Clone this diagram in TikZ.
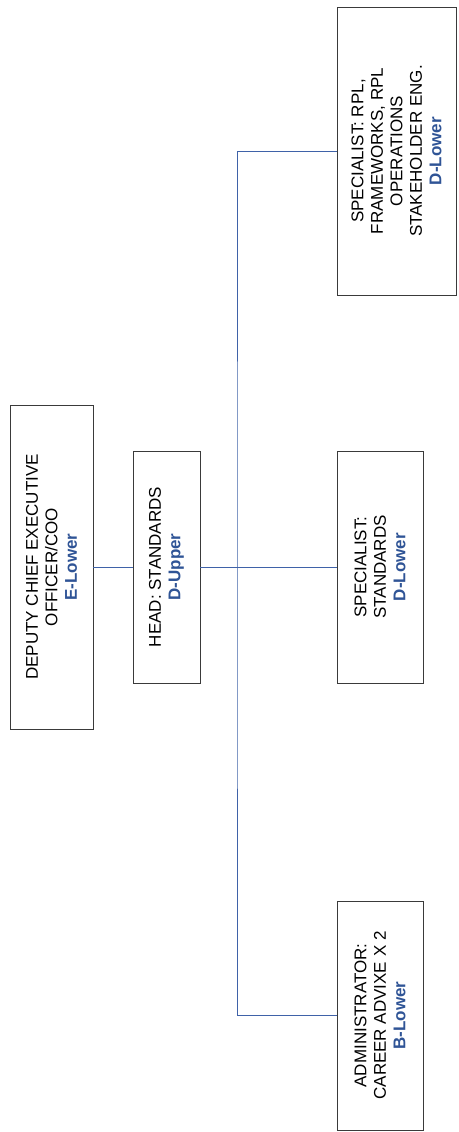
\documentclass[tikz,border=0pt]{standalone}
\usepackage{fontspec}
\setmainfont{Liberation Sans}
\definecolor{gradeblue}{HTML}{2F5496}
\definecolor{linkblue}{HTML}{3F62A8}
\definecolor{boxline}{HTML}{3A3A3A}
\newcommand\gradelabel[1]{\textcolor{gradeblue}{\textbf{#1}}}
\begin{document}
\begin{tikzpicture}[x=1pt,y=-1pt,
  post/.style={draw=boxline, line width=0.9pt, rotate=90, align=center,
    inner sep=0pt, font=\fontsize{17}{19.5}\selectfont},
  link/.style={draw=linkblue, line width=1pt}]
\useasboundingbox (0,0) rectangle (458,1132);

% positions (text reads bottom to top, so widths run vertically)
\node[post, minimum width=324pt, minimum height=83pt] (dceo) at (51.5,567)
  {DEPUTY CHIEF EXECUTIVE\\OFFICER/COO\\\gradelabel{E-Lower}};
\node[post, minimum width=232pt, minimum height=67pt] (head) at (166.5,567)
  {HEAD: STANDARDS\\\gradelabel{D-Upper}};
\node[post, minimum width=288pt, minimum height=119pt] (sprpl) at (396.5,151)
  {SPECIALIST: RPL,\\FRAMEWORKS, RPL\\OPERATIONS\\STAKEHOLDER ENG.\\\gradelabel{D-Lower}};
\node[post, minimum width=232pt, minimum height=86pt] (spstd) at (380,567)
  {SPECIALIST:\\STANDARDS\\\gradelabel{D-Lower}};
\node[post, minimum width=229pt, minimum height=86pt] (admin) at (380,1015.5)
  {ADMINISTRATOR:\\CAREER ADVIXE X 2\\\gradelabel{B-Lower}};

\coordinate (bus) at (237,567);

% reporting lines
\draw[link] (dceo.south) -- (head.north);
\draw[link] (head.south) -- (spstd.north);
\draw[link] (sprpl.north) -| (bus) |- (admin.north);
\end{tikzpicture}
\end{document}
